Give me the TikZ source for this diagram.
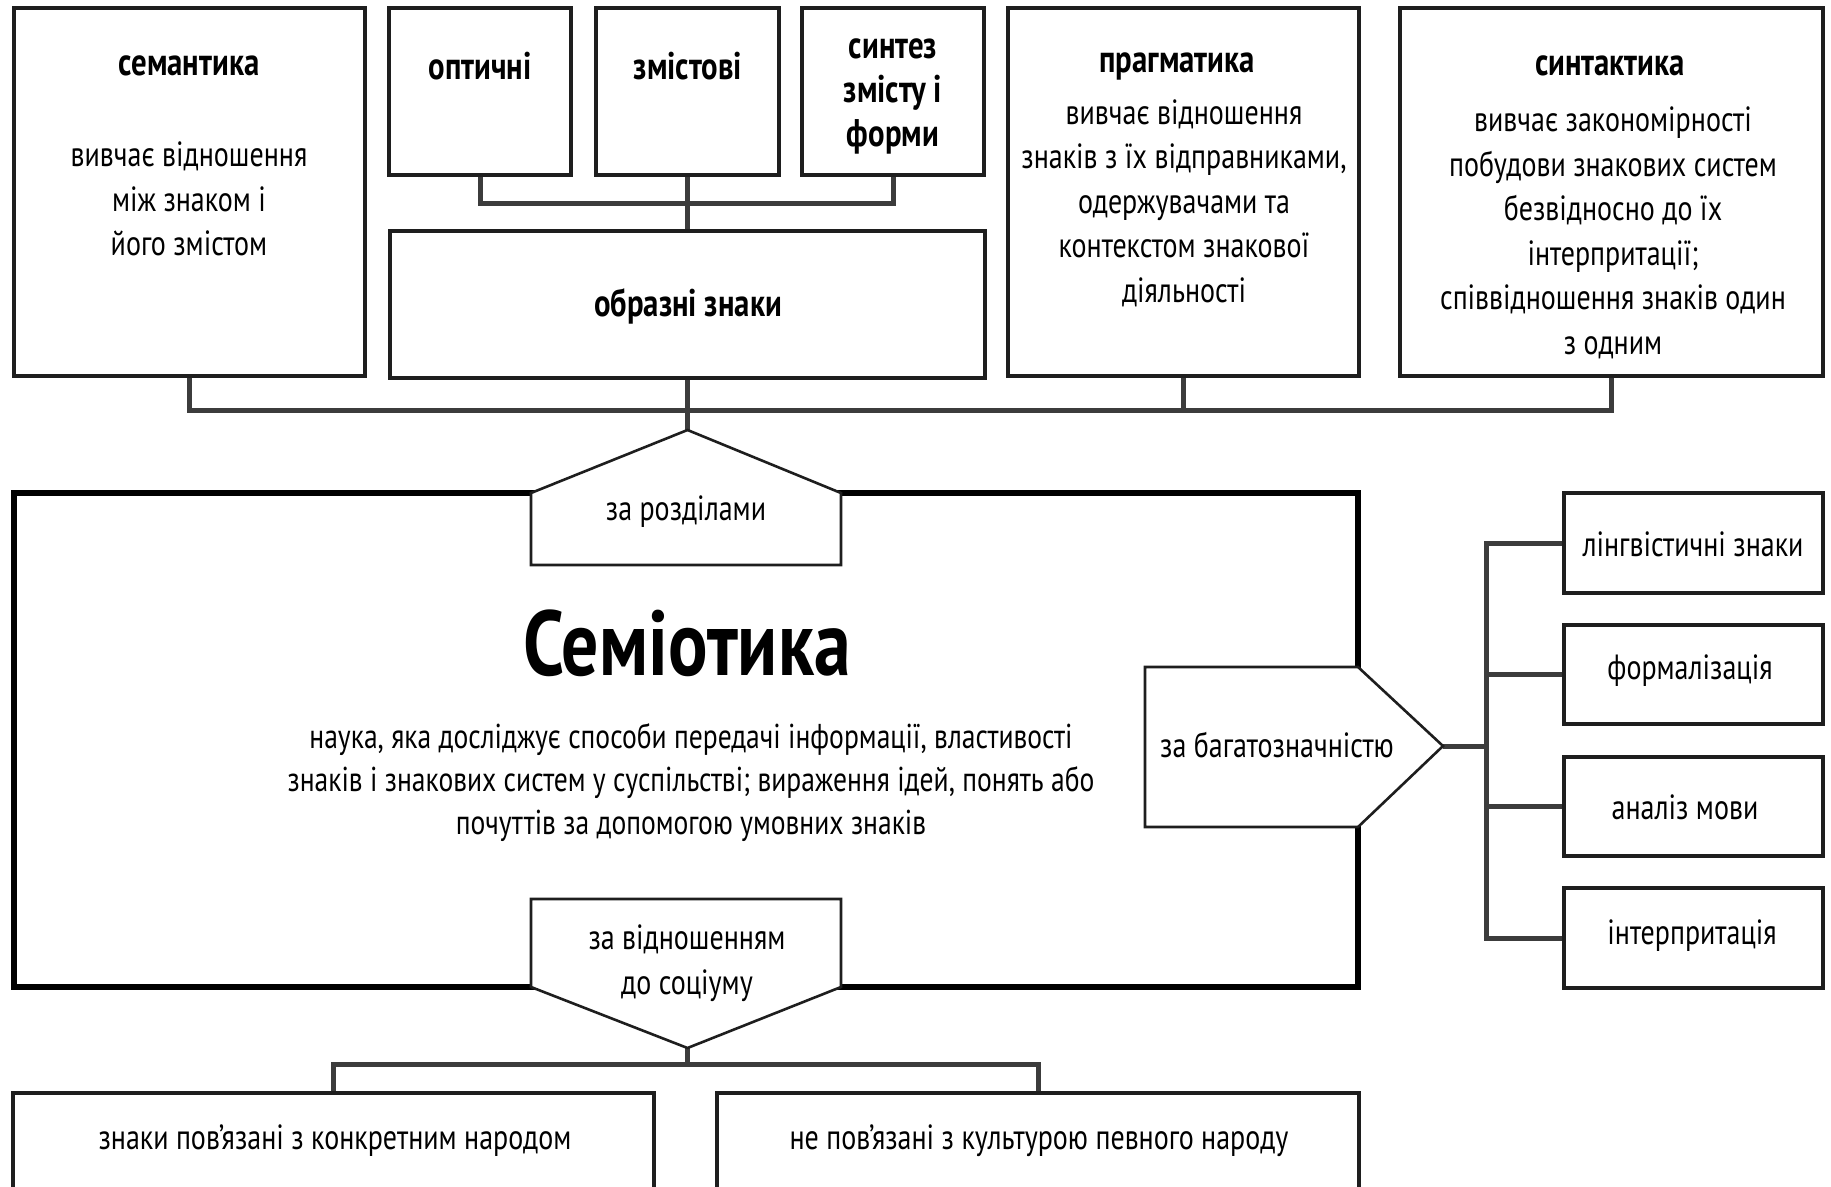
\documentclass[tikz,border=0pt]{standalone}
\usepackage{fontspec}
\setmainfont[FakeStretch=0.8]{PT Sans}
\usetikzlibrary{fit}
\definecolor{edge}{HTML}{1E1E1E}
\definecolor{wire}{HTML}{3C3C3C}
\begin{document}
\begin{tikzpicture}[x=1pt,y=-1pt,
  box/.style={draw=edge, line width=2.6pt, fill=white, inner sep=0pt},
  conn/.style={draw=wire, line width=5pt},
  pent/.style={draw=edge, line width=2.6pt, fill=white, line join=miter},
  head/.style={font=\fontsize{38.5}{44}\selectfont\bfseries, align=center, inner sep=0pt},
  body/.style={font=\fontsize{35}{44.5}\selectfont, align=center, inner sep=0pt},
]
\path[use as bounding box] (0,0) rectangle (1831,1186);
\clip (0,0) rectangle (1831,1186);

% ---------- boxes of the upper row
\node[box, fit={(15,9) (364,375)}] (sem) {};
\node[box, fit={(390,9) (570,174)}] (opt) {};
\node[box, fit={(597,9) (778,174)}] (zmi) {};
\node[box, fit={(803,9) (983,174)}] (syn) {};
\node[box, fit={(391,232) (984,377)}] (obr) {};
\node[box, fit={(1009,9) (1358,375)}] (pra) {};
\node[box, fit={(1401,9) (1822,375)}] (sint) {};

% ---------- right column
\node[box, fit={(1565,494) (1822,592)}] (lin) {};
\node[box, fit={(1565,626) (1822,723)}] (form) {};
\node[box, fit={(1565,758) (1822,855)}] (anal) {};
\node[box, fit={(1565,889) (1822,987)}] (intp) {};

% ---------- bottom row
\node[box, fit={(14,1094) (653,1210)}] (bl) {};
\node[box, fit={(718,1094) (1358,1210)}] (br) {};

% ---------- connectors
\coordinate (minibus) at (687.5,203);
\coordinate (mainbus) at (687.5,410);
\coordinate (razApex) at (687.5,430);
\coordinate (bagApex) at (1443,746);
\coordinate (rbus) at (1486,746);
\coordinate (socApex) at (687.5,1048);
\coordinate (botbus) at (687.5,1064);

\draw[conn] (opt.south) |- (minibus) -| (syn.south);
\draw[conn] (zmi.south) -- (obr.north);
\draw[conn] (sem.south) |- (mainbus) -| (sint.south);
\draw[conn] (pra.south) |- (mainbus);
\draw[conn] (obr.south) -- (razApex);
\draw[conn] (bagApex) -- (rbus);
\draw[conn] (lin.west) -| (rbus) |- (intp.west);
\draw[conn] (form.west) -- (form.west -| rbus);
\draw[conn] (anal.west) -- (anal.west -| rbus);
\draw[conn] (socApex) -- (botbus);
\draw[conn] (bl.north) |- (botbus) -| (br.north);

% box outlines drawn again above the connector ends
\foreach \b in {sem,opt,zmi,syn,obr,pra,sint,lin,form,anal,intp,bl,br}{
  \draw[edge, line width=2.6pt] (\b.north west) rectangle (\b.south east);
}

% ---------- central frame
\node[draw=black, line width=5.5pt, fit={(14,493) (1358,987)}, inner sep=0pt] (main) {};

% ---------- arrow-like labels on the frame
\draw[pent] (531,493) -- (razApex) -- (841,493) -- (841,565) -- (531,565) -- cycle;
\draw[pent] (1358,667) -- (bagApex) -- (1358,827) -- (1145,827) -- (1145,667) -- cycle;
\draw[pent] (841,987) -- (socApex) -- (531,987) -- (531,899) -- (841,899) -- cycle;

% ---------- texts
\node[head] (semT) at (189,66) {семантика};
\node[body] (semB) at (189,199) {вивчає відношення\\між знаком і\\його змістом};
\node[head] (optT) at (480,66) {оптичні};
\node[head] (zmiT) at (688,66) {змістові};
\node[head] (synT) at (893,96) {синтез\\змісту і\\форми};
\node[head] (obrT) at (688,306) {образні знаки};
\node[head] (praT) at (1177,66) {прагматика};
\node[body] (praB) at (1184,203) {вивчає відношення\\знаків з їх відправниками,\\одержувачами та\\контекстом знакової\\діяльності};
\node[head] (sinT) at (1610,66) {синтактика};
\node[body] (sinB) at (1613,233) {вивчає закономірності\\побудови знакових систем\\безвідносно до їх\\інтерпритації;\\співвідношення знаків один\\з одним};

\node[font=\fontsize{92}{96}\selectfont\bfseries, inner sep=0pt] (semio) at (687,643) {Семіотика};
\node[body, font=\fontsize{34.5}{43}\selectfont] (desc) at (691,783) {наука, яка досліджує способи передачі інформації, властивості\\знаків і знакових систем у суспільстві; вираження ідей, понять або\\почуттів за допомогою умовних знаків};

\node[body] (razT) at (686,512) {за розділами};
\node[body] (bagT) at (1277,745) {за багатозначністю};
\node[body] (socT) at (687,963) {за відношенням\\до соціуму};

\node[body] (linT) at (1693,544) {лінгвістичні знаки};
\node[body] (formT) at (1690,671) {формалізація};
\node[body] (analT) at (1685,807) {аналіз мови};
\node[body] (intpT) at (1692,936) {інтерпритація};

\node[body] (blT) at (335,1141) {знаки пов’язані з конкретним народом};
\node[body] (brT) at (1039,1141) {не пов’язані з культурою певного народу};
\end{tikzpicture}
\end{document}
